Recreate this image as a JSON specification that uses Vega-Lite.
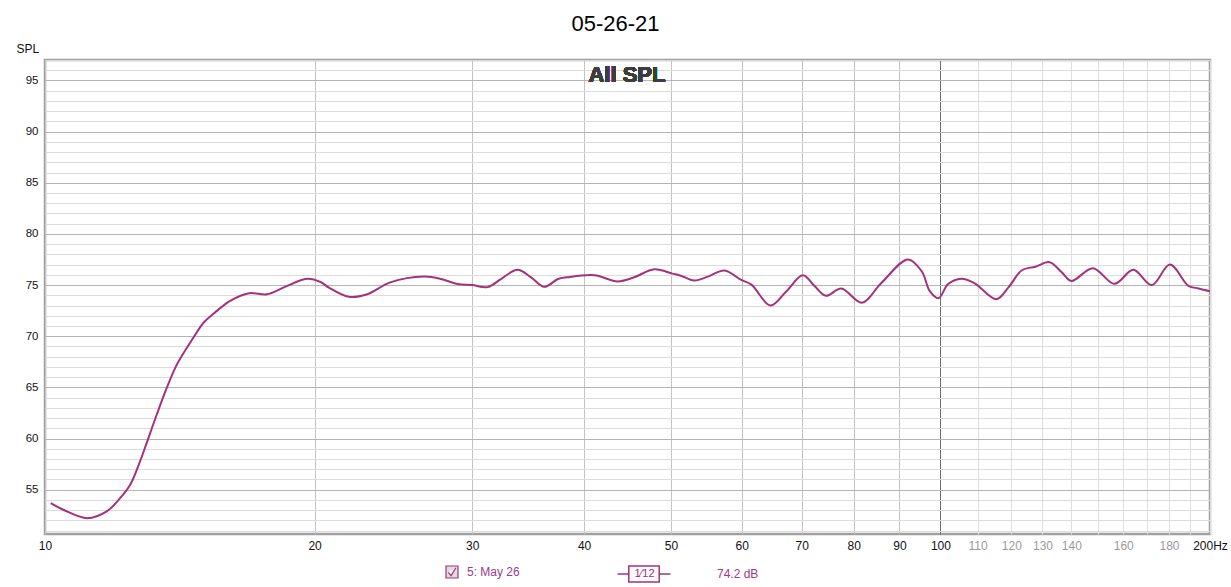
{
  "$schema": "https://vega.github.io/schema/vega-lite/v6.json",
  "description": "REW style SPL plot, 05-26-21",
  "width": 1165,
  "height": 474,
  "autosize": {"type": "none"},
  "padding": {"left": 45, "top": 60, "right": 21, "bottom": 53},
  "background": "white",
  "title": {
    "text": "05-26-21",
    "font": "Liberation Sans",
    "fontSize": 22,
    "fontWeight": "normal",
    "color": "black",
    "anchor": "middle",
    "frame": "group",
    "dx": -12,
    "offset": 6
  },
  "config": {
    "view": {"stroke": "#a0a0a0", "strokeWidth": 2.5},
    "axis": {
      "labelFont": "Liberation Sans",
      "titleFont": "Liberation Sans",
      "domain": false,
      "ticks": false,
      "labelOverlap": false,
      "labelFlush": false,
      "tickCount": 200
    }
  },
  "data": {
    "values": [
      {"f": 10.15, "spl": 53.69},
      {"f": 10.48, "spl": 53.04},
      {"f": 11.15, "spl": 52.22},
      {"f": 11.72, "spl": 52.88},
      {"f": 12.13, "spl": 54.18},
      {"f": 12.45, "spl": 55.49},
      {"f": 12.77, "spl": 57.78},
      {"f": 12.99, "spl": 59.58},
      {"f": 13.33, "spl": 62.35},
      {"f": 13.68, "spl": 64.97},
      {"f": 14.04, "spl": 67.25},
      {"f": 14.65, "spl": 69.87},
      {"f": 15.04, "spl": 71.34},
      {"f": 15.56, "spl": 72.48},
      {"f": 16.1, "spl": 73.46},
      {"f": 16.9, "spl": 74.2},
      {"f": 17.7, "spl": 74.1},
      {"f": 18.48, "spl": 74.77},
      {"f": 19.62, "spl": 75.62},
      {"f": 20.31, "spl": 75.3},
      {"f": 20.75, "spl": 74.75},
      {"f": 21.84, "spl": 73.85},
      {"f": 22.9, "spl": 74.1},
      {"f": 24.3, "spl": 75.26},
      {"f": 26.5, "spl": 75.83},
      {"f": 27.7, "spl": 75.6},
      {"f": 28.9, "spl": 75.1},
      {"f": 30.0, "spl": 75.0},
      {"f": 31.2, "spl": 74.8},
      {"f": 32.3, "spl": 75.59},
      {"f": 33.7, "spl": 76.49},
      {"f": 34.9, "spl": 75.76},
      {"f": 36.1, "spl": 74.83},
      {"f": 37.4, "spl": 75.59},
      {"f": 38.3, "spl": 75.76},
      {"f": 41.1, "spl": 75.96},
      {"f": 43.6, "spl": 75.36},
      {"f": 45.5, "spl": 75.76},
      {"f": 47.9, "spl": 76.55},
      {"f": 50.2, "spl": 76.12},
      {"f": 51.3, "spl": 75.92},
      {"f": 53.1, "spl": 75.45},
      {"f": 55.0, "spl": 75.83},
      {"f": 57.4, "spl": 76.42},
      {"f": 59.9, "spl": 75.5},
      {"f": 61.5, "spl": 75.05},
      {"f": 64.6, "spl": 73.0},
      {"f": 67.3, "spl": 74.4},
      {"f": 70.2, "spl": 75.95},
      {"f": 72.3, "spl": 74.93},
      {"f": 74.5, "spl": 73.95},
      {"f": 77.5, "spl": 74.67},
      {"f": 81.7, "spl": 73.28},
      {"f": 85.9, "spl": 75.2},
      {"f": 92.0, "spl": 77.51},
      {"f": 95.3, "spl": 76.35},
      {"f": 97.3, "spl": 74.4},
      {"f": 99.5, "spl": 73.72},
      {"f": 102.0, "spl": 75.1},
      {"f": 105.5, "spl": 75.62},
      {"f": 109.1, "spl": 75.2},
      {"f": 115.5, "spl": 73.62},
      {"f": 119.1, "spl": 74.77},
      {"f": 123.3, "spl": 76.45},
      {"f": 127.7, "spl": 76.8},
      {"f": 132.4, "spl": 77.24},
      {"f": 136.6, "spl": 76.25},
      {"f": 140.0, "spl": 75.4},
      {"f": 148.0, "spl": 76.65},
      {"f": 156.4, "spl": 75.12},
      {"f": 164.2, "spl": 76.49},
      {"f": 172.2, "spl": 75.0},
      {"f": 180.4, "spl": 77.0},
      {"f": 189.2, "spl": 74.93},
      {"f": 194.2, "spl": 74.67},
      {"f": 200.0, "spl": 74.4}
    ]
  },
  "layer": [
    {
      "mark": {"type": "line", "strokeWidth": 2, "interpolate": "catmull-rom", "clip": true},
      "encoding": {
        "x": {
          "field": "f",
          "type": "quantitative",
          "scale": {"type": "log", "domain": [10, 200], "nice": false},
          "axis": {
            "title": "1\u204412",
            "titleColor": "#9b2f82",
            "titleFontSize": 11,
            "titleFontWeight": "normal",
            "titleX": 599,
            "titleY": 39,
            "titleAlign": "center",
            "titleBaseline": "middle",
            "values": [10, 20, 30, 40, 50, 60, 70, 80, 90, 100, 110, 120, 130, 140, 150, 160, 170, 180, 190, 200],
            "labelExpr": "datum.value == 200 ? '200Hz' : (datum.value == 150 || datum.value == 170 || datum.value == 190 ? '' : format(datum.value, 'd'))",
            "labelFontSize": 12,
            "labelPadding": 6,
            "labelColor": {
              "condition": {"test": "datum.value > 100 && datum.value < 200", "value": "#9a9a9a"},
              "value": "#111111"
            },
            "gridColor": {
              "condition": [
                {"test": "datum.value == 100", "value": "#6e6e6e"},
                {"test": "datum.value > 100", "value": "#dedede"}
              ],
              "value": "#c2c2c2"
            },
            "gridWidth": 1
          }
        },
        "y": {
          "field": "spl",
          "type": "quantitative",
          "scale": {"domain": [50.67, 97], "nice": false, "zero": false},
          "axis": {
            "title": "SPL",
            "titleAngle": 0,
            "titleX": -29,
            "titleY": -12,
            "titleAlign": "left",
            "titleBaseline": "middle",
            "titleFontSize": 12,
            "titleFontWeight": "normal",
            "titleColor": "#111111",
            "values": [51, 52, 53, 54, 55, 56, 57, 58, 59, 60, 61, 62, 63, 64, 65, 66, 67, 68, 69, 70, 71, 72, 73, 74, 75, 76, 77, 78, 79, 80, 81, 82, 83, 84, 85, 86, 87, 88, 89, 90, 91, 92, 93, 94, 95, 96, 97],
            "labelExpr": "datum.value % 5 == 0 ? format(datum.value, 'd') : ''",
            "labelFontSize": 11.5,
            "labelPadding": 7,
            "labelColor": "#111111",
            "gridColor": {
              "condition": {"test": "datum.value % 5 == 0", "value": "#b4b4b4"},
              "value": "#dcdcdc"
            },
            "gridWidth": 1
          }
        },
        "color": {
          "datum": "5: May 26",
          "scale": {"range": ["#a3327e"]},
          "legend": {
            "orient": "none",
            "legendX": 400,
            "legendY": 505,
            "title": null,
            "symbolType": "M-1,-1H1V1H-1Z M-0.6,0.05L-0.15,0.6L0.65,-0.7",
            "symbolSize": 144,
            "labelFont": "Liberation Sans",
            "labelFontSize": 12,
            "labelColor": "#9b3b8b",
            "labelOffset": 8,
            "encode": {
              "symbols": {
                "update": {
                  "fill": {"value": "#dcdcdc"},
                  "stroke": {"value": "#222222"},
                  "strokeWidth": {"value": 1.2}
                }
              }
            }
          }
        },
        "opacity": {
          "datum": "74.2 dB",
          "type": "ordinal",
          "scale": {"range": [1]},
          "legend": {
            "orient": "none",
            "legendX": 590,
            "legendY": 505,
            "title": null,
            "symbolType": "M-3.3,0H-1.9M1.9,0H3.3M-1.9,-1H1.9V1H-1.9Z",
            "symbolSize": 256,
            "labelFont": "Liberation Sans",
            "labelFontSize": 12,
            "labelColor": "#9b3b8b",
            "labelOffset": 64,
            "encode": {
              "symbols": {
                "update": {
                  "fill": {"value": "transparent"},
                  "stroke": {"value": "#9b2f82"},
                  "strokeWidth": {"value": 2},
                  "opacity": {"value": 1}
                }
              }
            }
          }
        }
      }
    },
    {
      "mark": {
        "type": "text",
        "text": "All SPL",
        "font": "Liberation Sans",
        "fontSize": 22,
        "fontWeight": "bold",
        "color": "#3d3d3d",
        "align": "center",
        "baseline": "middle"
      },
      "encoding": {
        "x": {"datum": 44.66},
        "y": {"datum": 95.5}
      }
    }
  ]
}
